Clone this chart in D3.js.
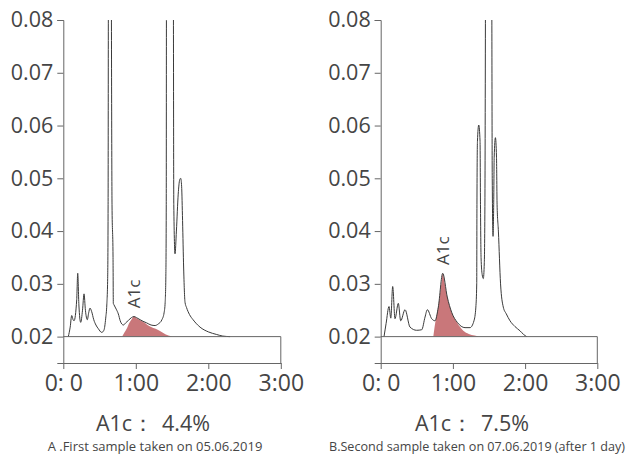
<!DOCTYPE html>
<html>
<head>
<meta charset="utf-8">
<script src="https://cdn.jsdelivr.net/npm/d3@7"></script>
<style>
  html, body { margin: 0; padding: 0; background: #fff; }
  svg { display: block; font-family: "Open Sans", "Noto Sans", sans-serif; }
</style>
</head>
<body>
<svg id="chart" width="626" height="457"></svg>
<script>
// Axis setup shared by both chromatograms
const yTicks = [0.02, 0.03, 0.04, 0.05, 0.06, 0.07, 0.08];
const yDomain = [0.015, 0.08];
const xTicks = [0, 1, 2, 3];
const xTickLabels = ["0: 0", "1:00", "2:00", "3:00"];
const baseline = 0.02;

// Sample A: detector trace (time in minutes, absorbance)
const traceATime = [0.069, 0.095, 0.116, 0.135, 0.148, 0.185, 0.199, 0.215, 0.240, 0.265, 0.286, 0.305, 0.331, 0.350, 0.368, 0.390, 0.420, 0.450, 0.483, 0.530, 0.560, 0.585, 0.600, 0.612, 0.618, 0.622, 0.640, 0.662, 0.672, 0.686, 0.690, 0.700, 0.730, 0.759, 0.785, 0.806, 0.830, 0.860, 0.900, 0.940, 0.975, 1.010, 1.060, 1.100, 1.150, 1.210, 1.265, 1.310, 1.360, 1.390, 1.405, 1.415, 1.420, 1.423, 1.470, 1.518, 1.524, 1.541, 1.560, 1.585, 1.605, 1.619, 1.632, 1.645, 1.660, 1.679, 1.700, 1.740, 1.790, 1.886, 2.000, 2.116, 2.200, 2.300];
const traceAValue = [0.0200, 0.0218, 0.0240, 0.0232, 0.0230, 0.0270, 0.0320, 0.0260, 0.0227, 0.0250, 0.0281, 0.0250, 0.0232, 0.0245, 0.0254, 0.0248, 0.0232, 0.0222, 0.0215, 0.0208, 0.0212, 0.0235, 0.0260, 0.0310, 0.0450, 0.0900, 0.2500, 0.0900, 0.0450, 0.0350, 0.0263, 0.0260, 0.0252, 0.0243, 0.0230, 0.0224, 0.0222, 0.0226, 0.0231, 0.0236, 0.0238, 0.0236, 0.0232, 0.0229, 0.0226, 0.0222, 0.0221, 0.0224, 0.0232, 0.0245, 0.0265, 0.0320, 0.0450, 0.0900, 0.3000, 0.0900, 0.0450, 0.0357, 0.0400, 0.0470, 0.0497, 0.0500, 0.0485, 0.0420, 0.0330, 0.0265, 0.0255, 0.0242, 0.0232, 0.0218, 0.0209, 0.0204, 0.0201, 0.0200];
// Sample A: HbA1c peak
const a1cATime = [0.812, 0.843, 0.874, 0.910, 0.943, 0.975, 1.010, 1.060, 1.127, 1.196, 1.288, 1.379, 1.450, 1.500];
const a1cAValue = [0.0200, 0.0208, 0.0215, 0.0226, 0.0233, 0.0238, 0.0235, 0.0231, 0.0226, 0.0219, 0.0214, 0.0207, 0.0202, 0.0200];

// Sample B: detector trace
const traceBTime = [0.046, 0.075, 0.115, 0.140, 0.166, 0.198, 0.244, 0.277, 0.337, 0.406, 0.498, 0.568, 0.614, 0.646, 0.706, 0.752, 0.798, 0.859, 0.922, 0.983, 1.061, 1.168, 1.237, 1.292, 1.318, 1.330, 1.333, 1.340, 1.358, 1.376, 1.382, 1.390, 1.405, 1.421, 1.435, 1.445, 1.452, 1.495, 1.538, 1.545, 1.556, 1.565, 1.572, 1.589, 1.604, 1.612, 1.630, 1.660, 1.698, 1.740, 1.791, 1.860, 1.929, 1.980, 2.022];
const traceBValue = [0.0200, 0.0225, 0.0257, 0.0235, 0.0295, 0.0234, 0.0263, 0.0230, 0.0251, 0.0218, 0.0212, 0.0213, 0.0237, 0.0251, 0.0234, 0.0230, 0.0256, 0.0320, 0.0275, 0.0246, 0.0227, 0.0217, 0.0217, 0.0230, 0.0256, 0.0300, 0.0450, 0.0570, 0.0601, 0.0570, 0.0450, 0.0350, 0.0318, 0.0310, 0.0340, 0.0500, 0.0900, 0.3000, 0.0900, 0.0500, 0.0390, 0.0450, 0.0540, 0.0577, 0.0540, 0.0450, 0.0400, 0.0300, 0.0256, 0.0243, 0.0230, 0.0219, 0.0211, 0.0204, 0.0200];
// Sample B: HbA1c peak
const a1cBTime = [0.729, 0.755, 0.775, 0.800, 0.821, 0.845, 0.859, 0.880, 0.900, 0.922, 0.950, 0.983, 1.020, 1.061, 1.100, 1.144, 1.220, 1.300, 1.360];
const a1cBValue = [0.0200, 0.0226, 0.0240, 0.0260, 0.0281, 0.0306, 0.0320, 0.0306, 0.0290, 0.0275, 0.0260, 0.0246, 0.0235, 0.0226, 0.0218, 0.0211, 0.0205, 0.0202, 0.0200];

const resultNames = ["A1c", "A1c"];
const resultValues = ["4.4%", "7.5%"];
const captions = ["A .First sample taken on 05.06.2019", "B.Second sample taken on 07.06.2019 (after 1 day)"];
const peakLabel = "A1c";

const zip = (t, v) => t.map((d, i) => ({ t: d, v: v[i] }));

const panels = [
  { id: "a", x0: 63.3, x1: 280.8, trace: zip(traceATime, traceAValue), peak: zip(a1cATime, a1cAValue),
    peakLabelAt: [0.98, 0.0281], name: resultNames[0], value: resultValues[0], caption: captions[0],
    resultX: 153, captionX: 155, captionAnchor: "middle", captionSize: 13 },
  { id: "b", x0: 380.7, x1: 597.3, trace: zip(traceBTime, traceBValue), peak: zip(a1cBTime, a1cBValue),
    peakLabelAt: [0.865, 0.0363], name: resultNames[1], value: resultValues[1], caption: captions[1],
    resultX: 472, captionX: 625, captionAnchor: "end", captionSize: 12.6 }
];

const svg = d3.select("#chart");
const axisColor = "#666";
const textColor = "#454545";

panels.forEach(p => {
  const x = d3.scaleLinear().domain([0, 3]).range([p.x0, p.x1]);
  const y = d3.scaleLinear().domain(yDomain).range([363, 20]);
  const g = svg.append("g");

  g.append("clipPath").attr("id", "clip-" + p.id)
    .append("rect").attr("x", p.x0).attr("y", y(0.08))
    .attr("width", p.x1 - p.x0 + 2).attr("height", y(yDomain[0]) - y(0.08));

  // HbA1c peak area
  const area = d3.area().curve(d3.curveMonotoneX)
    .x(d => x(d.t)).y0(y(baseline)).y1(d => y(d.v));
  g.append("path").datum(p.peak).attr("d", area)
    .attr("fill", "#c9777a").attr("stroke", "none");

  // Detector trace
  const line = d3.line().curve(d3.curveMonotoneX).x(d => x(d.t)).y(d => y(d.v));
  g.append("path").datum(p.trace).attr("d", line)
    .attr("clip-path", "url(#clip-" + p.id + ")")
    .attr("fill", "none").attr("stroke", "#3a3a3a").attr("stroke-width", 1);

  // Baseline box from 0.02 to the end of the run
  g.append("path")
    .attr("d", `M${x(0)},${y(baseline)}H${x(3)}V${y(yDomain[0])}`)
    .attr("fill", "none").attr("stroke", axisColor).attr("stroke-width", 1);

  // Axes
  const yAxis = d3.axisLeft(y).tickValues(yTicks).tickFormat(d3.format(".2f")).tickSize(6).tickPadding(4);
  const ya = g.append("g").attr("transform", `translate(${x(0)},0)`).call(yAxis);
  const xAxis = d3.axisBottom(x).tickValues(xTicks).tickFormat((d, i) => xTickLabels[i]).tickSize(6).tickSizeOuter(0).tickPadding(6);
  const xa = g.append("g").attr("transform", `translate(0,${y(yDomain[0])})`).call(xAxis);

  [ya, xa].forEach(a => {
    a.selectAll(".domain, .tick line").attr("stroke", axisColor);
    a.selectAll("text").attr("fill", textColor).attr("font-family", '"Open Sans", sans-serif');
  });
  ya.selectAll("text").attr("font-size", 21.5);
  xa.selectAll("text").attr("font-size", 23);

  // Peak name
  g.append("text")
    .attr("transform", `translate(${x(p.peakLabelAt[0]) + 6},${y(p.peakLabelAt[1])}) rotate(-90)`)
    .attr("text-anchor", "middle").attr("font-size", 17).attr("fill", textColor)
    .text(peakLabel);

  // Result (name, full-width colon, value) and caption
  const res = g.append("text").attr("x", p.resultX).attr("y", 431).attr("text-anchor", "middle")
    .attr("font-size", 21.5).attr("fill", textColor);
  res.append("tspan").text(p.name);
  res.append("tspan").text("：");
  res.append("tspan").attr("dx", 8).text(p.value);

  g.append("text").attr("x", p.captionX).attr("y", 451).attr("text-anchor", p.captionAnchor)
    .attr("font-size", p.captionSize).attr("fill", textColor).text(p.caption);
});
</script>
</body>
</html>
